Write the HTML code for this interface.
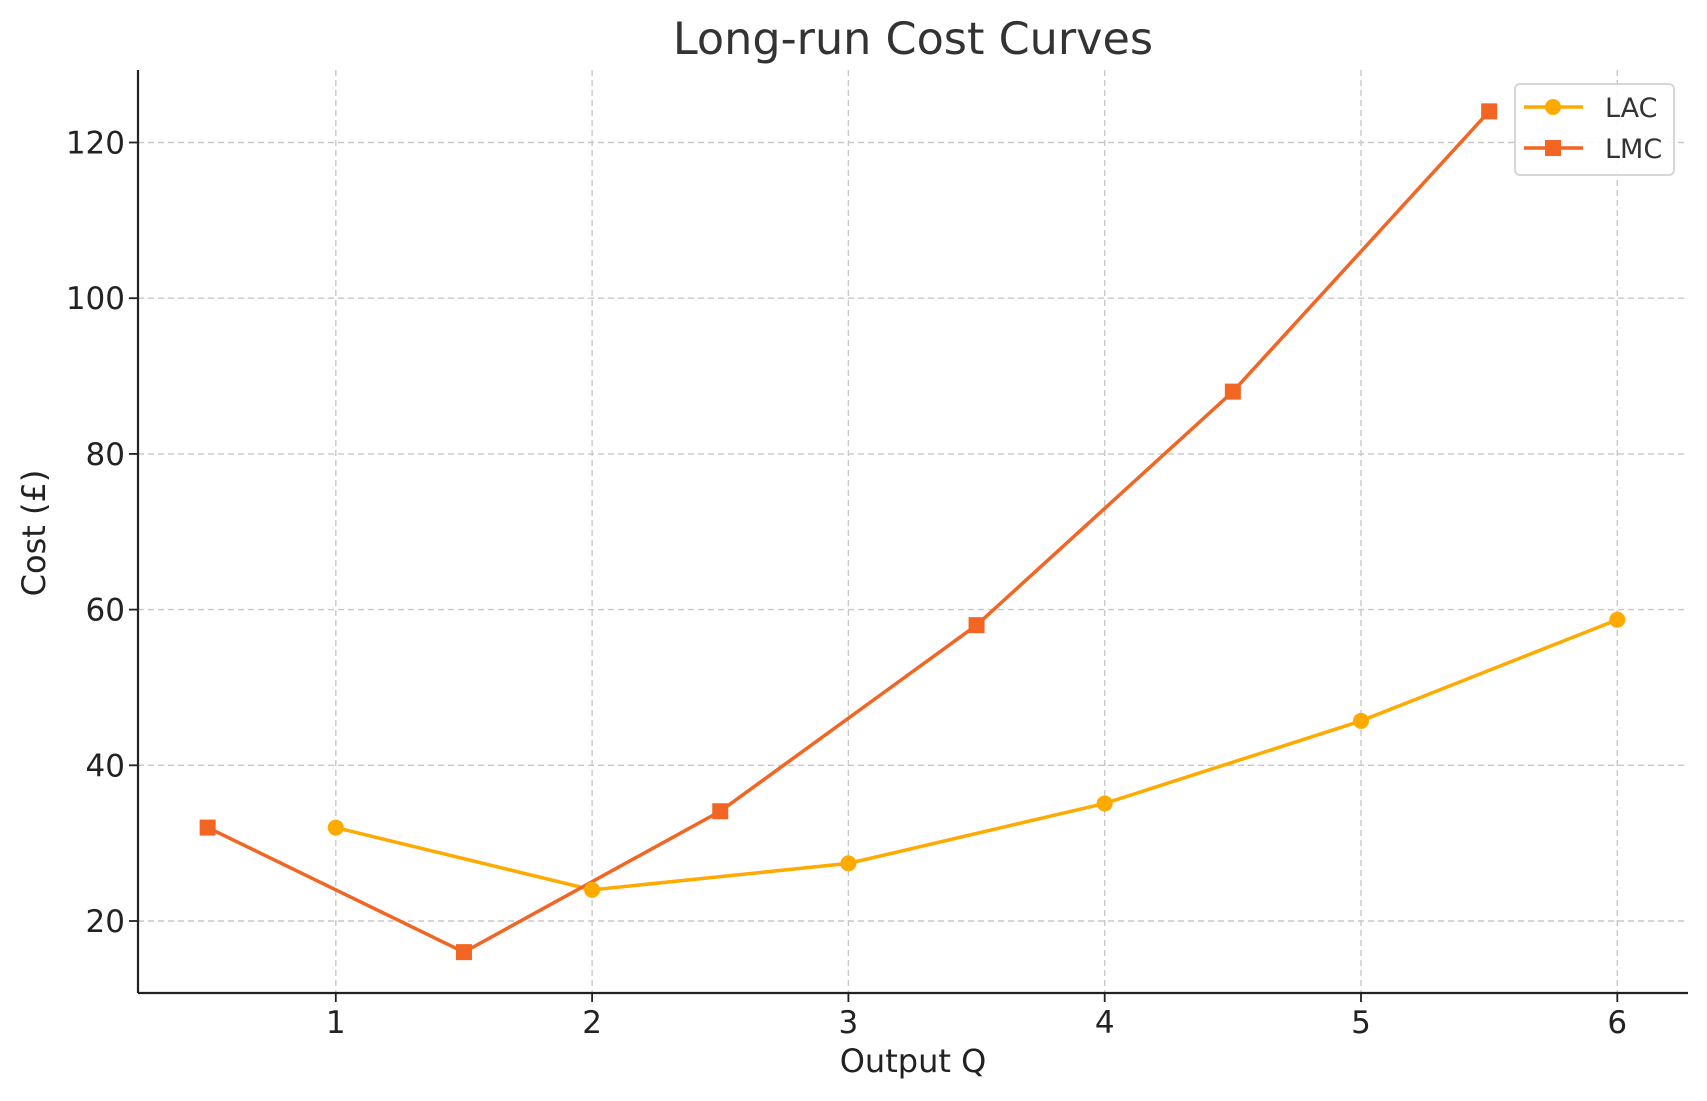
<!DOCTYPE html>
<html><head><meta charset="utf-8"><style>
html,body{margin:0;padding:0;background:#fff;}
svg{display:block;font-family:"DejaVu Sans","Liberation Sans",sans-serif;}
</style></head><body>
<svg id="chart" width="1707" height="1101" viewBox="0 0 1707 1101" xmlns="http://www.w3.org/2000/svg">
<text x="913" y="54" text-anchor="middle" font-size="44.5" fill="#333">Long-run Cost Curves</text>
<g id="grid"></g>
<g id="axes"></g>
<g id="series"></g>
<text x="913" y="1072" text-anchor="middle" font-size="32" fill="#222">Output Q</text>
<text transform="translate(45,533) rotate(-90)" text-anchor="middle" font-size="32" fill="#222">Cost (£)</text>
<g>
<rect x="1515" y="84" width="159" height="91" rx="5" fill="#fff" fill-opacity="0.85" stroke="#d6d6d6" stroke-width="2"/>
<g>
<line x1="1524" y1="107" x2="1583" y2="107" stroke="#FFAA00" stroke-width="3.5"/>
<circle cx="1553" cy="107" r="8" fill="#FFAA00"/>
<text x="1605" y="117" font-size="27" fill="#333">LAC</text>
</g>
<g>
<line x1="1524" y1="148" x2="1583" y2="148" stroke="#F26522" stroke-width="3.5"/>
<rect x="1545" y="140" width="16" height="16" fill="#F26522"/>
<text x="1605" y="158" font-size="27" fill="#333">LMC</text>
</g>
</g>
</svg>
<script>
const xTicks=[1,2,3,4,5,6];
const yTicks=[20,40,60,80,100,120];
const lacX=[1,2,3,4,5,6];
const lacY=[32,24,27.4,35.1,45.7,58.7];
const lmcX=[0.5,1.5,2.5,3.5,4.5,5.5];
const lmcY=[32,16,34.1,58,88,124];
const NS="http://www.w3.org/2000/svg";
const L=138,R=1688,T=70,B=993;
function sx(v){return 335.8+(v-1)*256.3;}
function sy(v){return 921-(v-20)*7.785;}
function mk(tag,attrs,parent){const e=document.createElementNS(NS,tag);for(const k in attrs)e.setAttribute(k,attrs[k]);parent.appendChild(e);return e;}
const grid=document.getElementById('grid'),axes=document.getElementById('axes'),series=document.getElementById('series');
xTicks.forEach(t=>{
  const g=mk('line',{x1:sx(t),x2:sx(t),y1:T,y2:B,stroke:'#c8c8c8','stroke-width':1.4,'stroke-dasharray':'6,4'},grid);
  
  
  const tk=mk('line',{x1:sx(t),x2:sx(t),y1:B,y2:B+9,stroke:'#222','stroke-width':1.8},axes);
  
  
  const lb=mk('text',{x:sx(t),y:B+40,'text-anchor':'middle','font-size':31,fill:'#222'},axes);
  lb.textContent=t;
  
  
});
yTicks.forEach(t=>{
  const g=mk('line',{x1:L,x2:R,y1:sy(t),y2:sy(t),stroke:'#c8c8c8','stroke-width':1.4,'stroke-dasharray':'6,4'},grid);
  
  
  const tk=mk('line',{x1:L-9,x2:L,y1:sy(t),y2:sy(t),stroke:'#222','stroke-width':1.8},axes);
  
  
  const lb=mk('text',{x:L-13,y:sy(t)+11,'text-anchor':'end','font-size':31,fill:'#222'},axes);
  lb.textContent=t;
  
  
});
const ya=mk('line',{x1:L,x2:L,y1:T,y2:B,stroke:'#222','stroke-width':2.2},axes);


const xa=mk('line',{x1:L,x2:R,y1:B,y2:B,stroke:'#222','stroke-width':2.2},axes);


function drawLine(xs,ys,color,name){
  const p=mk('polyline',{points:xs.map((x,i)=>sx(x)+','+sy(ys[i])).join(' '),fill:'none',stroke:color,'stroke-width':3.5,'stroke-linejoin':'round'},series);
  
  
}
drawLine(lacX,lacY,'#FFAA00','lac');
drawLine(lmcX,lmcY,'#F26522','lmc');
lacX.forEach((x,i)=>{
  const c=mk('circle',{cx:sx(x),cy:sy(lacY[i]),r:8,fill:'#FFAA00'},series);
  
  
});
lmcX.forEach((x,i)=>{
  const r=mk('rect',{x:sx(x)-8,y:sy(lmcY[i])-8,width:16,height:16,fill:'#F26522'},series);
  
  
});
</script>
</body></html>
